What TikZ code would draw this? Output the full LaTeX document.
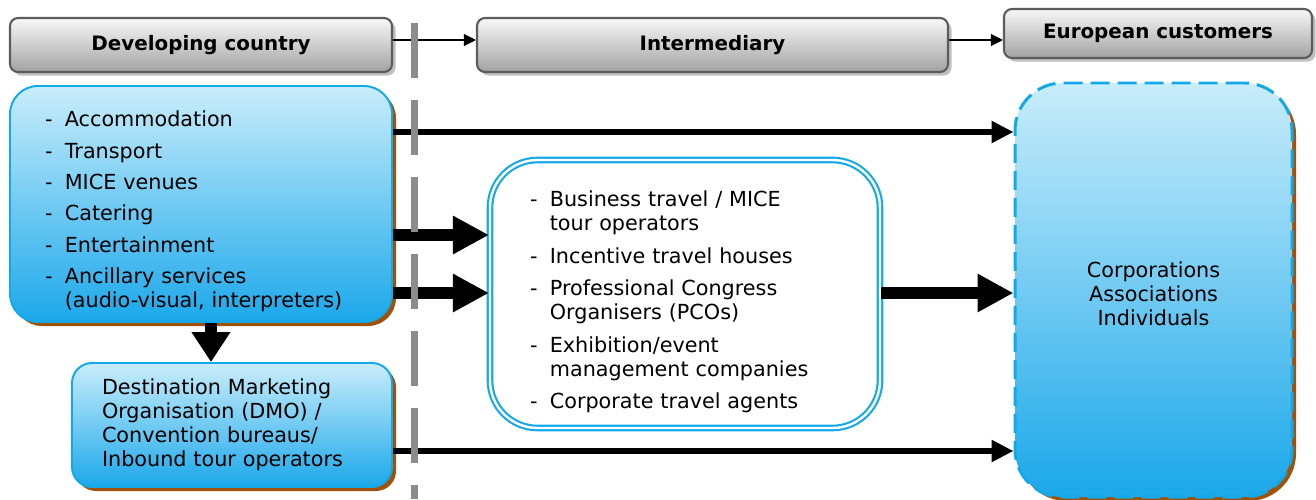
\documentclass[tikz,border=0pt]{standalone}
\usepackage{fontspec}
\setmainfont{DejaVu Sans}
\usetikzlibrary{arrows.meta,shadows}

\definecolor{boxtop}{HTML}{C9EDFB}
\definecolor{boxbottom}{HTML}{1BA8EA}
\definecolor{boxline}{HTML}{12A9E8}
\definecolor{shadowbrown}{HTML}{A0520D}
\definecolor{headtop}{HTML}{F8F8F8}
\definecolor{headbottom}{HTML}{A2A2A2}
\definecolor{headline}{HTML}{5C5C5C}
\definecolor{divider}{HTML}{8C8C8C}

\newcommand{\lidash}{\makebox[11.3pt][l]{-}}
\newcommand{\lindent}{\hspace*{11.3pt}}

\begin{document}
\begin{tikzpicture}[
		header/.style={rounded corners=0.16cm, draw=headline, line width=1.2pt, top color=headtop, bottom color=headbottom, font=\fontsize{11.3}{13}\selectfont\bfseries, general shadow={fill=black!25, shadow xshift=0.07cm, shadow yshift=-0.07cm}},
		bluebox/.style={rounded corners=0.56cm, draw=boxline, line width=1.1pt, top color=boxtop, bottom color=boxbottom, general shadow={fill=shadowbrown, shadow xshift=0.08cm, shadow yshift=-0.08cm}, font=\fontsize{11.8}{13.6}\selectfont, align=left},
		doublebox/.style={rounded corners=0.95cm, draw=boxline, line width=1.2pt, double=white, double distance=1.4pt, fill=white, font=\fontsize{11.8}{13.6}\selectfont, align=left},
		dashbox/.style={bluebox, rounded corners=0.95cm, line width=1.7pt, dash pattern=on 0.38cm off 0.16cm, align=center},
		thinarrow/.style={line width=0.7pt, -{Triangle[length=0.24cm,width=0.24cm]}},
		midarrow/.style={line width=0.13cm, -{Triangle[length=0.44cm,width=0.42cm]}},
		fatarrow/.style={line width=0.24cm, -{Triangle[length=0.72cm,width=0.72cm]}},
		]
		\useasboundingbox (0,0) rectangle (26.32,-9.98);
		% column headers
		\node[header, minimum width=7.64cm, minimum height=1.08cm] at (4.02,-0.90) (hdev) {Developing country};
		\node[header, minimum width=9.42cm, minimum height=1.08cm] at (14.25,-0.90) (hint) {Intermediary};
		\node[header, minimum width=6.16cm, minimum height=0.98cm] at (23.16,-0.67) (heu) {European customers};
		% boxes
		\node[bluebox, minimum height=4.72cm, text width=6.24cm, inner xsep=0.7cm] at (4.02,-4.08) (services) {%
			\rule{0pt}{17.4pt}\lidash Accommodation\\[4.3pt]
			\lidash Transport\\[4.3pt]
			\lidash MICE venues\\[4.3pt]
			\lidash Catering\\[4.3pt]
			\lidash Entertainment\\[4.3pt]
			\lidash Ancillary services\\
			\lindent(audio-visual, interpreters)};
		\node[bluebox, rounded corners=0.4cm, minimum height=2.48cm, text width=5.2cm, inner xsep=0.6cm] at (4.64,-8.50) (dmo) {%
			Destination Marketing\\
			Organisation (DMO) /\\
			Convention bureaus/\\
			Inbound tour operators};
		\node[doublebox, minimum height=5.36cm, text width=6.2cm, inner xsep=0.8cm] at (13.70,-5.88) (intermediaries) {%
			\rule{0pt}{18pt}\lidash Business travel / MICE\\
			\lindent tour operators\\[5pt]
			\lidash Incentive travel houses\\[5pt]
			\lidash Professional Congress\\
			\lindent Organisers (PCOs)\\[5pt]
			\lidash Exhibition/event\\
			\lindent management companies\\[5pt]
			\lidash Corporate travel agents};
		\node[dashbox, minimum width=5.54cm, minimum height=8.28cm] at (23.07,-5.80) (customers) {\rule{0pt}{13.5pt}Corporations\\Associations\\Individuals};
		% flows
		\draw[thinarrow] (hdev.east |- 0,-0.80) -- (hint.west |- 0,-0.80);
		\draw[thinarrow] (hint.east |- 0,-0.80) -- (heu.west |- 0,-0.80);
		\draw[midarrow] (services.east |- 0,-2.64) -- (customers.west |- 0,-2.64);
		\draw[fatarrow] (services.east |- 0,-4.70) -- (intermediaries.west |- 0,-4.70);
		\draw[fatarrow] (services.east |- 0,-5.86) -- (intermediaries.west |- 0,-5.86);
		\draw[fatarrow] (intermediaries.east |- 0,-5.86) -- (customers.west |- 0,-5.86);
		\draw[midarrow] (dmo.east |- 0,-9.02) -- (customers.west |- 0,-9.02);
		\draw[line width=0.24cm, -{Triangle[length=0.6cm,width=0.74cm]}] (services.south -| 4.22,0) -- (dmo.north -| 4.22,0);
		% divider
		\coordinate (divtop) at (8.28,-0.46);
		\coordinate (divbot) at (8.28,-9.98);
		\draw[divider, line width=0.14cm, dash pattern=on 1.1cm off 0.44cm] (divtop) -- (divbot);
\end{tikzpicture}
\end{document}
